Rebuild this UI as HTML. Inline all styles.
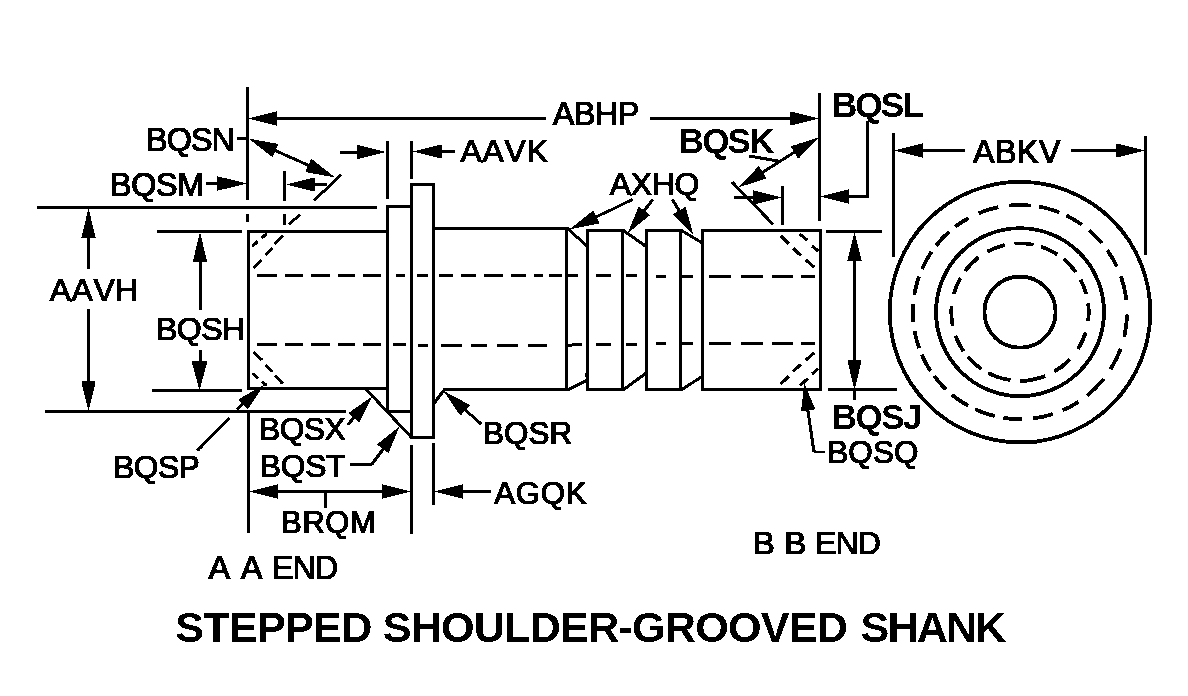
<!DOCTYPE html>
<html><head><meta charset="utf-8"><title>Stepped Shoulder-Grooved Shank</title>
<style>
html,body{margin:0;padding:0;background:#fff;}
body{width:1188px;height:696px;overflow:hidden;font-family:"Liberation Sans",sans-serif;}
svg{display:block;}
text{font-family:"Liberation Sans",sans-serif;fill:#000;font-kerning:none;white-space:pre;}
</style></head><body>
<svg width="1188" height="696" viewBox="0 0 1188 696">
<defs><filter id="bin" x="0" y="0" width="1188" height="696" filterUnits="userSpaceOnUse" color-interpolation-filters="sRGB"><feComponentTransfer><feFuncA type="discrete" tableValues="0 1"/></feComponentTransfer></filter></defs>
<rect width="1188" height="696" fill="#fff"/>
<g filter="url(#bin)">
<g fill="none" stroke="#000" stroke-width="3" shape-rendering="crispEdges">
<path d="M247,231.5H389"/>
<path d="M248.5,230V390"/>
<path d="M247,388.5H389"/>
<path d="M387.5,411V206.5H411.5"/>
<path d="M386,411H413"/>
<path d="M411.5,437.5V184.5H433.5V437.5Z"/>
<path d="M433.5,228.5H568.5"/>
<path d="M443,389.5H568"/>
<path d="M566.5,227V391"/>
<path d="M587.5,230.5H622.5V389.5H587.5Z"/>
<path d="M646.5,230.5H680.5V389.5H646.5Z"/>
<path d="M702.5,230.5H820.5V389.5H702.5Z"/>
<path d="M585.8,373.2V376.5" stroke-width="1.6"/>
<path d="M257.1,275.5H277.2"/>
<path d="M284.9,275.5H302.9"/>
<path d="M311,275.5H329.9"/>
<path d="M337.9,275.5H355.1"/>
<path d="M363,275.5H381.2"/>
<path d="M396,275.5H405.1"/>
<path d="M417.1,275.5H428"/>
<path d="M439.1,275.5H452.8"/>
<path d="M461,275.5H476.1"/>
<path d="M483.8,275.5H503.2"/>
<path d="M510.9,275.5H525.8"/>
<path d="M534.2,275.5H542.9"/>
<path d="M549.1,275.5H561.7"/>
<path d="M566.5,275.5H578.1"/>
<path d="M596.1,275.5H611"/>
<path d="M625.9,275.5H637.2"/>
<path d="M656,276.5H665.9"/>
<path d="M680.3,276.5H692.8"/>
<path d="M709.1,276.5H730.8"/>
<path d="M741.1,276.5H762.8"/>
<path d="M771.9,276.5H792.7"/>
<path d="M801.2,276.5H814.8"/>
<path d="M257.1,344.5H277.2"/>
<path d="M284.9,344.5H302.9"/>
<path d="M311,344.5H329.9"/>
<path d="M337.9,344.5H355.1"/>
<path d="M363,344.5H381.2"/>
<path d="M393,344.5H406"/>
<path d="M596.1,344.5H611"/>
<path d="M625.9,344.5H637.2"/>
<path d="M417.9,345.5H428"/>
<path d="M441,345.5H461.9"/>
<path d="M471,345.5H487.1"/>
<path d="M496.8,345.5H518.1"/>
<path d="M528.2,345.5H547.1"/>
<path d="M656,343.5H665.9"/>
<path d="M680.3,343.5H692.8"/>
<path d="M709.1,343.5H730.8"/>
<path d="M741.1,343.5H762.8"/>
<path d="M771.9,343.5H792.7"/>
<path d="M801.2,343.5H814.8"/>
<path d="M247.5,87V200"/>
<path d="M247.5,214V222"/>
<path d="M248.5,411V532.5"/>
<path d="M270,118.5H545.6"/>
<path d="M649.8,118.5H795"/>
<path d="M819.5,93V220.7"/>
<path d="M237,138.5H247"/>
<path d="M206.3,183.5H225"/>
<path d="M284.5,171V200.5"/>
<path d="M284.5,214V224.5"/>
<path d="M310,184.5H326.5"/>
<path d="M37,207.5H377"/>
<path d="M45,411.5H345.5"/>
<path d="M88.5,235V269"/>
<path d="M88.5,308.5V385"/>
<path d="M156.5,231.5H242"/>
<path d="M152,390.5H242"/>
<path d="M200.5,258V309.5"/>
<path d="M200.5,349.5V363"/>
<path d="M340,152H360"/>
<path d="M387.5,141V198.5"/>
<path d="M411.5,141V178.5"/>
<path d="M438,151.5H455"/>
<path d="M734.3,197.5H755"/>
<path d="M782.5,185.7V224.5"/>
<path d="M867.5,121V196.5H845"/>
<path d="M893.5,133V257"/>
<path d="M1145.5,136V255"/>
<path d="M918,150.5H965.3"/>
<path d="M1070.6,150.5H1120"/>
<path d="M826,231.5H882"/>
<path d="M827.5,389.5H896.5"/>
<path d="M854.5,258V363"/>
<path d="M854.5,388V400"/>
<path d="M350.2,464.5H372"/>
<path d="M275,491.5H385"/>
<path d="M325.5,493V508"/>
<path d="M411.5,445V533.5"/>
<path d="M433.5,443V504.5"/>
<path d="M460,491.5H491"/>
</g>
<g fill="none" stroke="#000" stroke-width="3">
<path d="M567.5,228L587.5,247"/>
<path d="M567.5,390L586.5,380.3"/>
<path d="M623,230.2L646.5,246.8"/>
<path d="M623,390L646.5,372.7"/>
<path d="M681,230.2L702.5,243"/>
<path d="M681,390L702.5,376.2"/>
<path d="M365.8,389L411.5,437.5"/>
<path d="M433.5,404L444.5,389.5"/>
<path d="M566.5,345.3L582,344.5"/>
<path d="M252.3,246.3L257.6,241.3"/>
<path d="M261.6,238.1L266.6,233.7"/>
<path d="M253.7,267.9L261.6,259.6"/>
<path d="M265.6,254.9L272.7,248"/>
<path d="M274.5,244.2L282.8,235.8"/>
<path d="M252.6,373.3L258,378.3"/>
<path d="M262,381.9L266.6,385.5"/>
<path d="M253.7,352.1L262,360"/>
<path d="M265.9,365L272.4,371.8"/>
<path d="M274.9,375.4L282.8,383.7"/>
<path d="M799.8,234.1L807.4,240.2"/>
<path d="M812,246L818.1,251"/>
<path d="M780.8,235.9L789,243.8"/>
<path d="M793,248.1L800.9,255.7"/>
<path d="M805.9,260L814.2,267.2"/>
<path d="M799.8,385.5L808.1,378.3"/>
<path d="M812,374L818.1,368.9"/>
<path d="M780.8,384L789,376.1"/>
<path d="M793,371.5L800.9,364.3"/>
<path d="M805.9,360L814.2,352.8"/>
<path d="M262,144.5L322,171.5"/>
<path d="M314,200.5L341,175"/>
<path d="M289,224.5L300,214.5"/>
<path d="M632.6,199.5L594,218"/>
<path d="M652.8,199.5L644,211"/>
<path d="M672.4,199.5L680,212"/>
<path d="M749.2,156.1L777.7,161"/>
<path d="M760,174L797,150.5"/>
<path d="M732,182L773,224.3"/>
<path d="M825.5,452L814,452"/>
<path d="M814,452L807.5,408"/>
<path d="M197.2,450.8L229.5,418.2"/>
<path d="M236.7,409.6L246,400.5"/>
<path d="M347.7,424.8L358,413"/>
<path d="M371.7,464.5L386,445.5"/>
<path d="M481.5,424.3L462,407"/>

<g stroke-width="3.8">
<circle cx="1020" cy="312.1" r="130.3"/>
<circle cx="1020" cy="312.1" r="84"/>
<circle cx="1020" cy="312.1" r="35.6"/>
<path d="M1008.62,205.61A107.1,107.1 0 0 1 1030.82,205.55M1039.15,206.73A107.1,107.1 0 0 1 1059.25,212.45M1066.28,215.51A107.1,107.1 0 0 1 1082.04,224.80M1088.99,230.18A107.1,107.1 0 0 1 1101.92,243.11M1107.30,250.06A107.1,107.1 0 0 1 1116.99,266.67M1120.83,276.00A107.1,107.1 0 0 1 1126.43,300.16M1127.07,314.53A107.1,107.1 0 0 1 1124.23,336.74M1120.58,348.91A107.1,107.1 0 0 1 1110.53,369.33M1103.70,378.92A107.1,107.1 0 0 1 1086.96,395.68M1078.64,401.72A107.1,107.1 0 0 1 1062.71,410.32M1052.92,414.02A107.1,107.1 0 0 1 1032.87,418.42M1022.24,419.18A107.1,107.1 0 0 1 1003.43,417.91M994.63,416.15A107.1,107.1 0 0 1 975.08,409.32M968.08,405.77A107.1,107.1 0 0 1 951.88,394.74M945.74,389.27A107.1,107.1 0 0 1 934.02,375.96M930.59,371.06A107.1,107.1 0 0 1 921.78,354.81M919.11,348.03A107.1,107.1 0 0 1 914.56,330.88M913.38,322.18A107.1,107.1 0 0 1 913.23,303.70M914.31,294.79A107.1,107.1 0 0 1 918.92,276.70M922.01,268.88A107.1,107.1 0 0 1 931.52,251.75M935.95,245.72A107.1,107.1 0 0 1 949.17,231.76M955.25,226.79A107.1,107.1 0 0 1 968.40,218.25M978.67,213.30A107.1,107.1 0 0 1 998.28,207.23"/>
<path d="M1014.49,243.62A68.7,68.7 0 0 1 1033.58,244.76M1041.00,246.69A68.7,68.7 0 0 1 1057.32,254.42M1063.70,259.09A68.7,68.7 0 0 1 1075.79,272.01M1080.49,279.53A68.7,68.7 0 0 1 1086.33,294.20M1088.14,303.37A68.7,68.7 0 0 1 1088.10,321.19M1085.63,332.42A68.7,68.7 0 0 1 1078.01,348.91M1070.08,359.13A68.7,68.7 0 0 1 1054.25,371.66M1045.29,375.98A68.7,68.7 0 0 1 1019.64,380.80M1010.56,380.15A68.7,68.7 0 0 1 988.07,372.93M981.58,369.05A68.7,68.7 0 0 1 967.68,356.63M963.52,351.21A68.7,68.7 0 0 1 955.44,335.60M952.73,326.03A68.7,68.7 0 0 1 951.54,306.35M953.64,294.32A68.7,68.7 0 0 1 960.38,277.96M964.99,270.95A68.7,68.7 0 0 1 978.46,257.38M987.22,251.73A68.7,68.7 0 0 1 1004.66,245.13"/>
</g>

</g>
<g fill="#000" stroke="none">
<polygon points="247.8,118.5 276.8,111.3 276.8,125.7"/>
<polygon points="819.5,118.5 790.5,125.7 790.5,111.3"/>
<polygon points="248.6,138.6 278.5,144.0 272.5,157.3"/>
<polygon points="335.2,177.4 305.3,172.0 311.3,158.7"/>
<polygon points="247.2,183.5 217.2,190.7 217.2,176.3"/>
<polygon points="285.5,184.5 314.5,177.3 314.5,191.7"/>
<polygon points="88.5,208.3 95.7,238.3 81.3,238.3"/>
<polygon points="88.5,411.5 81.3,381.5 95.7,381.5"/>
<polygon points="200.0,232.5 207.2,261.5 192.8,261.5"/>
<polygon points="199.5,390.5 191.7,361.5 207.3,361.5"/>
<polygon points="386.0,152.0 357.0,159.2 357.0,144.8"/>
<polygon points="412.5,151.5 441.5,144.3 441.5,158.7"/>
<polygon points="569.7,229.3 593.4,210.2 599.5,223.6"/>
<polygon points="627.7,233.2 638.6,206.4 650.2,215.0"/>
<polygon points="693.3,234.4 673.0,214.0 685.5,206.7"/>
<polygon points="819.2,137.3 798.3,158.7 790.6,146.3"/>
<polygon points="738.0,187.4 758.9,166.0 766.6,178.4"/>
<polygon points="782.0,197.5 753.0,204.7 753.0,190.3"/>
<polygon points="820.0,196.5 849.0,189.3 849.0,203.7"/>
<polygon points="893.8,150.5 922.8,143.3 922.8,157.7"/>
<polygon points="1145.3,150.5 1116.3,157.7 1116.3,143.3"/>
<polygon points="854.5,232.3 861.7,261.3 847.3,261.3"/>
<polygon points="854.5,389.5 847.3,360.5 861.7,360.5"/>
<polygon points="804.3,383.6 815.4,409.2 801.0,411.4"/>
<polygon points="264.3,384.5 247.6,409.6 238.2,399.5"/>
<polygon points="372.7,396.1 359.4,422.4 348.5,412.9"/>
<polygon points="399.5,426.4 388.5,453.1 377.0,444.5"/>
<polygon points="443.3,390.7 470.0,405.1 460.4,415.8"/>
<polygon points="249.2,491.5 278.2,484.3 278.2,498.7"/>
<polygon points="410.7,491.5 381.7,498.7 381.7,484.3"/>
<polygon points="434.4,491.5 463.4,484.3 463.4,498.7"/>
</g>
<g stroke-linejoin="miter" style="font-kerning:none">
<text transform="translate(552.64,125.40) scale(0.1623,0.1623)" font-size="200" letter-spacing="-4.02" stroke="#000" stroke-width="7.39">ABHP</text>
<text transform="translate(146.11,150.70) scale(0.1616,0.1616)" font-size="200" letter-spacing="-5.68" stroke="#000" stroke-width="7.43">BQSN</text>
<text transform="translate(110.11,195.50) scale(0.1616,0.1616)" font-size="200" letter-spacing="-2.49" stroke="#000" stroke-width="7.43">BQSM</text>
<text transform="translate(460.44,161.90) scale(0.1594,0.1594)" font-size="200" letter-spacing="5.17" stroke="#000" stroke-width="7.53">AAVK</text>
<text transform="translate(609.84,194.60) scale(0.1594,0.1594)" font-size="200" letter-spacing="-1.83" stroke="#000" stroke-width="7.53">AXHQ</text>
<text transform="translate(678.62,153.30) scale(0.1754,0.1754)" font-size="200" letter-spacing="-10.31" font-weight="bold">BQSK</text>
<text transform="translate(831.38,117.30) scale(0.1783,0.1783)" font-size="200" letter-spacing="-12.01" font-weight="bold">BQSL</text>
<text transform="translate(972.94,163.20) scale(0.1616,0.1616)" font-size="200" letter-spacing="3.01" stroke="#000" stroke-width="7.43">ABKV</text>
<text transform="translate(49.64,300.60) scale(0.1601,0.1601)" font-size="200" letter-spacing="3.26" stroke="#000" stroke-width="7.49">AAVH</text>
<text transform="translate(156.04,339.50) scale(0.1601,0.1601)" font-size="200" letter-spacing="-3.28" stroke="#000" stroke-width="7.49">BQSH</text>
<text transform="translate(113.16,478.20) scale(0.1587,0.1587)" font-size="200" letter-spacing="-3.38" stroke="#000" stroke-width="7.56">BQSP</text>
<text transform="translate(259.06,440.30) scale(0.1587,0.1587)" font-size="200" letter-spacing="-3.49" stroke="#000" stroke-width="7.56">BQSX</text>
<text transform="translate(259.76,477.10) scale(0.1587,0.1587)" font-size="200" letter-spacing="-1.29" stroke="#000" stroke-width="7.56">BQST</text>
<text transform="translate(483.08,444.10) scale(0.1572,0.1572)" font-size="200" letter-spacing="0.15" stroke="#000" stroke-width="7.63">BQSR</text>
<text transform="translate(494.14,503.90) scale(0.1565,0.1565)" font-size="200" letter-spacing="4.20" stroke="#000" stroke-width="7.67">AGQK</text>
<text transform="translate(281.12,533.20) scale(0.1551,0.1551)" font-size="200" letter-spacing="3.68" stroke="#000" stroke-width="7.74">BRQM</text>
<text transform="translate(831.74,429.30) scale(0.1739,0.1739)" font-size="200" letter-spacing="-7.59" font-weight="bold">BQSJ</text>
<text transform="translate(827.28,462.50) scale(0.1572,0.1572)" font-size="200" letter-spacing="0.72" stroke="#000" stroke-width="7.63">BQSQ</text>
<text transform="translate(208.44,578.50) scale(0.1629,0.1623)" font-size="200" stroke="#000" stroke-width="7.38">A</text>
<text transform="translate(240.74,578.50) scale(0.1629,0.1623)" font-size="200" stroke="#000" stroke-width="7.38">A</text>
<text transform="translate(272.10,578.50) scale(0.1623,0.1623)" font-size="200" letter-spacing="-7.44" stroke="#000" stroke-width="7.39">END</text>
<text transform="translate(752.51,553.50) scale(0.1682,0.1594)" font-size="200" stroke="#000" stroke-width="7.33">B</text>
<text transform="translate(784.15,553.50) scale(0.1654,0.1594)" font-size="200" stroke="#000" stroke-width="7.39">B</text>
<text transform="translate(815.25,553.50) scale(0.1594,0.1594)" font-size="200" letter-spacing="-5.85" stroke="#000" stroke-width="7.53">END</text>
<text transform="translate(175.30,641.90) scale(0.2159,0.2159)" font-size="200" letter-spacing="-3.47" font-weight="bold">STEPPED</text>
<text transform="translate(382.70,641.90) scale(0.2159,0.2159)" font-size="200" letter-spacing="-3.73" font-weight="bold">SHOULDER-GROOVED</text>
<text transform="translate(860.60,641.90) scale(0.2159,0.2159)" font-size="200" letter-spacing="-8.97" font-weight="bold">SHANK</text>
</g>
</g>
</svg>
</body></html>
